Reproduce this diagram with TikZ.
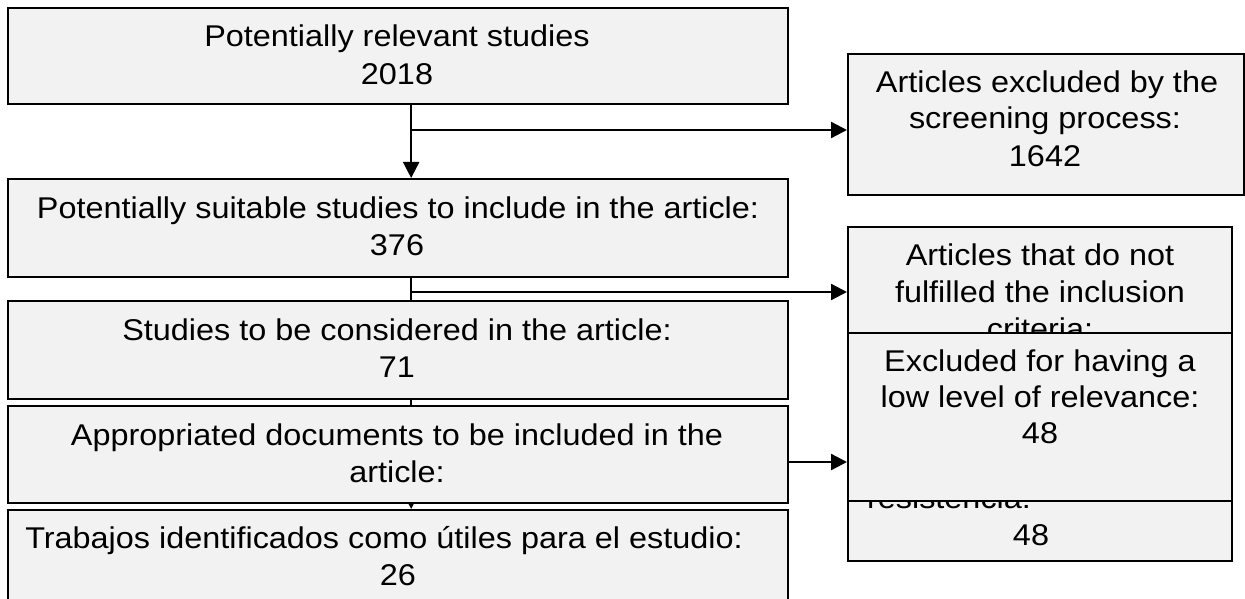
\documentclass[tikz,border=0pt]{standalone}
\usepackage{fontspec}
\setmainfont{Liberation Sans}[FakeStretch=1.08]
\usetikzlibrary{arrows.meta,backgrounds}
\definecolor{boxgray}{HTML}{F2F2F2}
\begin{document}
\begin{tikzpicture}[x=1pt,y=-1pt,
  box/.style={draw=black, line width=2.3pt, fill=boxgray, inner sep=0pt, anchor=north west},
  txt/.style={anchor=base, inner sep=0pt, font=\fontsize{30}{36}\selectfont},
  conn/.style={line width=2.3pt},
  arr/.style={line width=2.3pt, -{Triangle[length=16pt,width=16pt]}}]
\useasboundingbox (0,0) rectangle (1245,599);
\clip (0,0) rectangle (1245,599);

% left column
\node[box, minimum width=780pt, minimum height=96pt] (A) at (7,7) {};
\node[txt] (tA1) at (397,47) {Potentially relevant studies};
\node[txt] (tA2) at (397,85) {2018};

\node[box, minimum width=780pt, minimum height=98pt] (B) at (7,178) {};
\node[txt] (tB1) at (398,218) {Potentially suitable studies to include in the article:};
\node[txt] (tB2) at (397,255) {376};

% right column
\node[box, minimum width=396pt, minimum height=141pt] (C) at (847,53) {};
\node[txt] (tC1) at (1047,93) {Articles excluded by the};
\node[txt] (tC2) at (1045,129) {screening process:};
\node[txt] (tC3) at (1045,167) {1642};

\node[box, minimum width=384pt, minimum height=180pt] (E) at (847,226) {};
\node[txt] (tE1) at (1040,265) {Articles that do not};
\node[txt] (tE2) at (1040,302) {fulfilled the inclusion};
\node[txt] (tE3) at (1040,339) {criteria:};

\node[box, minimum width=384pt, minimum height=140pt] (H) at (847,420) {};
\node[txt] (tH1) at (949,508) {resistencia:};
\node[txt] (tH2) at (1031,545) {48};

\node[box, minimum width=384pt, minimum height=168pt] (F) at (847,332) {};
\node[txt] (tF1) at (1040,371) {Excluded for having a};
\node[txt] (tF2) at (1040,407) {low level of relevance:};
\node[txt] (tF3) at (1040,443) {48};

% lower left column
\node[box, minimum width=780pt, minimum height=98pt] (D) at (7,300) {};
\node[txt] (tD1) at (397,340) {Studies to be considered in the article:};
\node[txt] (tD2) at (397,377) {71};

\node[box, minimum width=780pt, minimum height=97pt] (P) at (7,405) {};
\node[txt] (tP1) at (397,445) {Appropriated documents to be included in the};
\node[txt] (tP2) at (397,482) {article:};

\node[box, minimum width=780pt, minimum height=110pt] (G) at (7,509) {};
\node[txt] (tG1) at (384,548) {Trabajos identificados como útiles para el estudio:};
\node[txt] (tG2) at (398,585) {26};

% connectors
\coordinate (j1) at (410,130);
\coordinate (j2) at (410,292);
\coordinate (y3) at (0,462);
\begin{scope}[on background layer]
\draw[arr] ([xshift=13pt]A.south) -- ([xshift=13pt]B.north);
\draw[arr] (j1) -- (j1 -| C.west);
\draw[conn] ([xshift=13pt]B.south) -- ([xshift=13pt]D.north);
\draw[arr] (j2) -- (j2 -| E.west);
\draw[arr] ([xshift=13pt]D.south) -- ([xshift=13pt]G.north);
\draw[arr] (P.east |- y3) -- (F.west |- y3);
\end{scope}
\end{tikzpicture}
\end{document}
